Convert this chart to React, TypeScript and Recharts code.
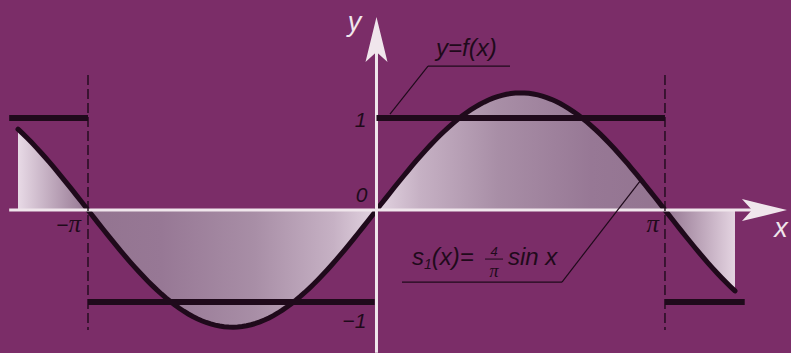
import React from "react";
import {
  ComposedChart,
  Area,
  XAxis,
  YAxis,
  ReferenceLine,
  ReferenceDot,
} from "recharts";

// palette
const BG = "#7b2d68";
const INK = "#1f0a1b";
const AXIS = "#f0e6ec";
const SANS = "'Liberation Sans', Arial, sans-serif";
const SERIF = "'Liberation Serif', 'Times New Roman', serif";

const PI = Math.PI;

// visible x window of the plot (radians) and y window
const xDomain: [number, number] = [-4.1, 4.514];
const yDomain: [number, number] = [-1.554, 2.283];

// sample range of s1(x): the curve is cut where the plot ends
const curveFrom = -3.904;
const curveTo = 3.904;
const curveSteps = 160;

// square wave f(x): [x0, x1, level]
const squareSegments: [number, number, number][] = [
  [-4.0, -PI, 1],
  [-PI, -0.02, -1],
  [0.0, PI, 1],
  [PI, 4.01, -1],
];

// dashed guides at the period ends
const guidesX = [-PI, PI];
const guideSpan: [number, number] = [1.467, -1.304];

// axes extents (arrow tips)
const xAxisSpan: [number, number] = [-4.0, 4.47];
const yAxisSpan: [number, number] = [-1.55, 2.098];

// tick labels on the axes
const tickLabels = [
  { x: 0, y: 1, text: "1", dx: -10, dy: 9 },
  { x: 0, y: 0, text: "0", dx: -9, dy: -8 },
  { x: 0, y: -1, text: "\u22121", dx: -10, dy: 26 },
  { x: -PI, y: 0, text: "\u2212\u03c0", dx: -7, dy: 22 },
  { x: PI, y: 0, text: "\u03c0", dx: -6, dy: 22 },
];

// leader lines for the two captions
const fLeader: [number, number][] = [
  [0.147, 1.043],
  [0.561, 1.565],
  [1.454, 1.565],
];
const sLeader: [number, number][] = [
  [0.278, -0.783],
  [2.02, -0.783],
  [2.87, 0.315],
];

// s1(x) = 4/π · sin x, the first Fourier term named in the caption
const s1 = (x: number) => (4 / PI) * Math.sin(x);
const curve = Array.from({ length: curveSteps + 1 }, (_, i) => {
  const x = curveFrom + ((curveTo - curveFrom) * i) / curveSteps;
  return { x, s: s1(x) };
});

const tickText = (t: string) => {
  // π glyphs in serif, digits and minus in sans
  const parts = t.split(/(\u03c0)/).filter(Boolean);
  return parts.map((p, i) =>
    p === "\u03c0" ? (
      <tspan key={i} fontFamily={SERIF} fontSize={25}>
        {p}
      </tspan>
    ) : (
      <tspan key={i}>{p}</tspan>
    )
  );
};

function segs(points: [number, number][]) {
  const out: { x: number; y: number }[][] = [];
  for (let i = 0; i < points.length - 1; i++) {
    out.push([
      { x: points[i][0], y: points[i][1] },
      { x: points[i + 1][0], y: points[i + 1][1] },
    ]);
  }
  return out;
}

export default function App() {
  return (
    <div
      style={{
        position: "absolute",
        left: 0,
        top: 0,
        width: 791,
        height: 353,
        background: BG,
      }}
    >
      <ComposedChart
        width={791}
        height={353}
        data={curve}
        margin={{ top: 0, right: 0, bottom: 0, left: 0 }}
      >
        <defs>
          <linearGradient id="shade" x1="0" y1="0" x2="1" y2="0">
            <stop offset="0" stopColor="#e8dae6" />
            <stop offset="0.098" stopColor="#937490" />
            <stop offset="0.2" stopColor="#977895" />
            <stop offset="0.33" stopColor="#a88ea6" />
            <stop offset="0.44" stopColor="#c6b1c4" />
            <stop offset="0.5" stopColor="#e3d4e1" />
            <stop offset="0.56" stopColor="#c6b1c4" />
            <stop offset="0.67" stopColor="#a88ea6" />
            <stop offset="0.8" stopColor="#977895" />
            <stop offset="0.902" stopColor="#937490" />
            <stop offset="1" stopColor="#e4d4e1" />
          </linearGradient>
        </defs>
        <XAxis
          dataKey="x"
          type="number"
          domain={xDomain}
          allowDataOverflow
          hide
        />
        <YAxis type="number" domain={yDomain} allowDataOverflow hide />

        {/* shaded area between s1 and the x axis */}
        <Area
          dataKey="s"
          type="linear"
          baseValue={0}
          fill="url(#shade)"
          fillOpacity={1}
          stroke="none"
          dot={false}
          activeDot={false}
          isAnimationActive={false}
        />

        {/* axes */}
        <ReferenceLine
          segment={[
            { x: xAxisSpan[0], y: 0 },
            { x: xAxisSpan[1] - 0.3, y: 0 },
          ]}
          stroke={AXIS}
          strokeWidth={3}
        />
        <ReferenceLine
          segment={[
            { x: 0, y: yAxisSpan[0] },
            { x: 0, y: yAxisSpan[1] - 0.3 },
          ]}
          stroke={AXIS}
          strokeWidth={3}
        />

        {/* dashed guides at ±π */}
        {guidesX.map((gx) => (
          <ReferenceLine
            key={gx}
            segment={[
              { x: gx, y: guideSpan[0] },
              { x: gx, y: guideSpan[1] },
            ]}
            stroke={INK}
            strokeWidth={1.4}
            strokeDasharray="10 4"
          />
        ))}

        {/* square wave */}
        {squareSegments.map(([a, b, v], i) => (
          <ReferenceLine
            key={i}
            segment={[
              { x: a, y: v },
              { x: b, y: v },
            ]}
            stroke={INK}
            strokeWidth={6}
          />
        ))}

        {/* s1 curve on top */}
        <Area
          dataKey="s"
          type="linear"
          baseValue={0}
          fill="none"
          stroke={INK}
          strokeWidth={5}
          strokeLinecap="round"
          dot={false}
          activeDot={false}
          isAnimationActive={false}
        />

        {/* leaders */}
        {[...segs(fLeader), ...segs(sLeader)].map((sg, i) => (
          <ReferenceLine
            key={"l" + i}
            segment={sg}
            stroke={INK}
            strokeWidth={1.2}
          />
        ))}

        {/* arrow heads */}
        <ReferenceDot
          x={xAxisSpan[1]}
          y={0}
          r={0}
          shape={(p: any) => (
            <path
              d={`M${p.cx},${p.cy} L${p.cx - 45},${p.cy - 11} L${p.cx - 35},${p.cy} L${p.cx - 45},${p.cy + 11} Z`}
              fill={AXIS}
            />
          )}
        />
        <ReferenceDot
          x={0}
          y={yAxisSpan[1]}
          r={0}
          shape={(p: any) => (
            <path
              d={`M${p.cx},${p.cy} L${p.cx - 11},${p.cy + 45} L${p.cx},${p.cy + 35} L${p.cx + 11},${p.cy + 45} Z`}
              fill={AXIS}
            />
          )}
        />

        {/* axis names */}
        <ReferenceDot
          x={0}
          y={yAxisSpan[1]}
          r={0}
          shape={(p: any) => (
            <text
              x={p.cx - 22}
              y={p.cy + 14}
              textAnchor="middle"
              fontFamily={SANS}
              fontStyle="italic"
              fontSize={27}
              fill={AXIS}
            >
              y
            </text>
          )}
        />
        <ReferenceDot
          x={xAxisSpan[1]}
          y={0}
          r={0}
          shape={(p: any) => (
            <text
              x={p.cx - 6}
              y={p.cy + 27}
              textAnchor="middle"
              fontFamily={SANS}
              fontStyle="italic"
              fontSize={27}
              fill={AXIS}
            >
              x
            </text>
          )}
        />

        {/* tick labels */}
        {tickLabels.map((t) => (
          <ReferenceDot
            key={t.text}
            x={t.x}
            y={t.y}
            r={0}
            shape={(p: any) => (
              <text
                x={p.cx + t.dx}
                y={p.cy + t.dy}
                textAnchor="end"
                fontFamily={SANS}
                fontStyle="italic"
                fontSize={21}
                fill={INK}
              >
                {tickText(t.text)}
              </text>
            )}
          />
        ))}

        {/* caption y=f(x) */}
        <ReferenceDot
          x={fLeader[1][0]}
          y={fLeader[1][1]}
          r={0}
          shape={(p: any) => (
            <text
              x={p.cx + 8}
              y={p.cy - 10}
              fontFamily={SANS}
              fontStyle="italic"
              fontSize={24}
              fill={INK}
            >
              y=f(x)
            </text>
          )}
        />

        {/* caption s1(x) = 4/π sin x */}
        <ReferenceDot
          x={sLeader[0][0]}
          y={sLeader[0][1]}
          r={0}
          shape={(p: any) => {
            const x0 = p.cx + 10;
            const base = p.cy - 17;
            return (
              <g fill={INK} fontFamily={SANS} fontStyle="italic">
                <text x={x0} y={base} fontSize={24}>
                  s
                  <tspan fontSize={14} dy={4}>
                    1
                  </tspan>
                  <tspan dy={-4}>(x)=</tspan>
                </text>
                <text x={x0 + 82} y={base - 9} fontSize={13} textAnchor="middle">
                  4
                </text>
                <line
                  x1={x0 + 73}
                  x2={x0 + 91}
                  y1={base - 6}
                  y2={base - 6}
                  stroke={INK}
                  strokeWidth={1}
                />
                <text
                  x={x0 + 82}
                  y={base + 12}
                  fontSize={18}
                  fontFamily={SERIF}
                  textAnchor="middle"
                >
                  {"\u03c0"}
                </text>
                <text x={x0 + 96} y={base} fontSize={24}>
                  sin x
                </text>
              </g>
            );
          }}
        />
      </ComposedChart>
    </div>
  );
}
